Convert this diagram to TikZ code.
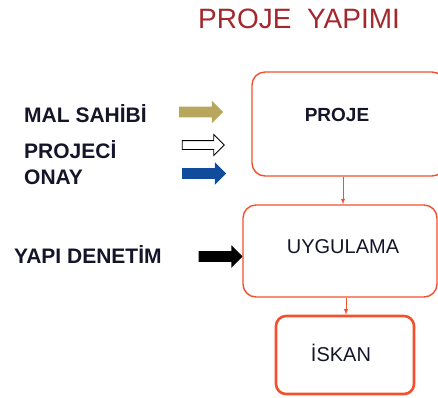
\documentclass[tikz,border=0pt]{standalone}
\usepackage{fontspec}
\setmainfont{Liberation Sans}
\usetikzlibrary{shapes.arrows}
\definecolor{boxred}{HTML}{F2502E}
\definecolor{titlered}{HTML}{A3282E}
\definecolor{goldarrow}{HTML}{B8A65C}
\definecolor{bluearrow}{HTML}{114C9A}
\definecolor{labelink}{HTML}{15152A}

\tikzset{
  stepbox/.style={draw=boxred, line width=1.4pt, rounded corners=13pt, inner sep=0pt},
  boxtext/.style={font=\fontsize{20}{24}\selectfont, text=labelink},
  actor/.style={anchor=base west, inner sep=0pt, font=\bfseries\fontsize{21}{25}\selectfont, text=labelink},
  blockarrow/.style={single arrow, inner xsep=0pt, inner ysep=5pt, minimum height=44pt,
    single arrow head extend=6pt, single arrow head indent=0pt, line width=0.8pt},
  flow/.style={draw=boxred, line width=0.9pt, -latex}
}

\begin{document}
\begin{tikzpicture}[x=1pt, y=-1pt]
\useasboundingbox (0,0) rectangle (438,397);
\clip (0,0) rectangle (438,397);
\node[font=\fontsize{28}{32}\selectfont, text=titlered] (title) at (299,19) {PROJE\ \ YAPIMI};

\node[actor] (malsahibi) at (24,122) {MAL SAHİBİ};
\node[actor] (projeci) at (24,158) {PROJECİ};
\node[actor] (onay) at (24,184.5) {ONAY};
\node[actor] (denetim) at (14,263) {YAPI DENETİM};

\node[blockarrow, fill=goldarrow] (okmal) at (198.5,112) {};
\node[blockarrow, draw=black, fill=white, inner ysep=4pt, minimum height=42pt] (okproje) at (201,145) {};
\node[blockarrow, fill=bluearrow] (okonay) at (201.5,173.5) {};
\node[blockarrow, fill=black] (okdenetim) at (218,256.5) {};

\node[stepbox, minimum width=193pt, minimum height=104pt] (proje) at (348.5,124) {};
\node[boxtext, font=\bfseries\fontsize{19}{22}\selectfont] (projetext) at (337,115) {PROJE};
\node[stepbox, minimum width=194pt, minimum height=92pt] (uygulama) at (340,251) {};
\node[boxtext] (uygulamatext) at (343,247) {UYGULAMA};
\node[stepbox, line width=2.6pt, rounded corners=10pt, minimum width=138pt, minimum height=78pt] (iskan) at (345,355) {};
\node[boxtext] (iskantext) at (341,353) {İSKAN};

\draw[flow] (proje.south -| 343,0) -- (uygulama.north -| 343,0);
\draw[flow] (uygulama.south -| 346,0) -- (iskan.north -| 346,0);
\end{tikzpicture}
\end{document}
